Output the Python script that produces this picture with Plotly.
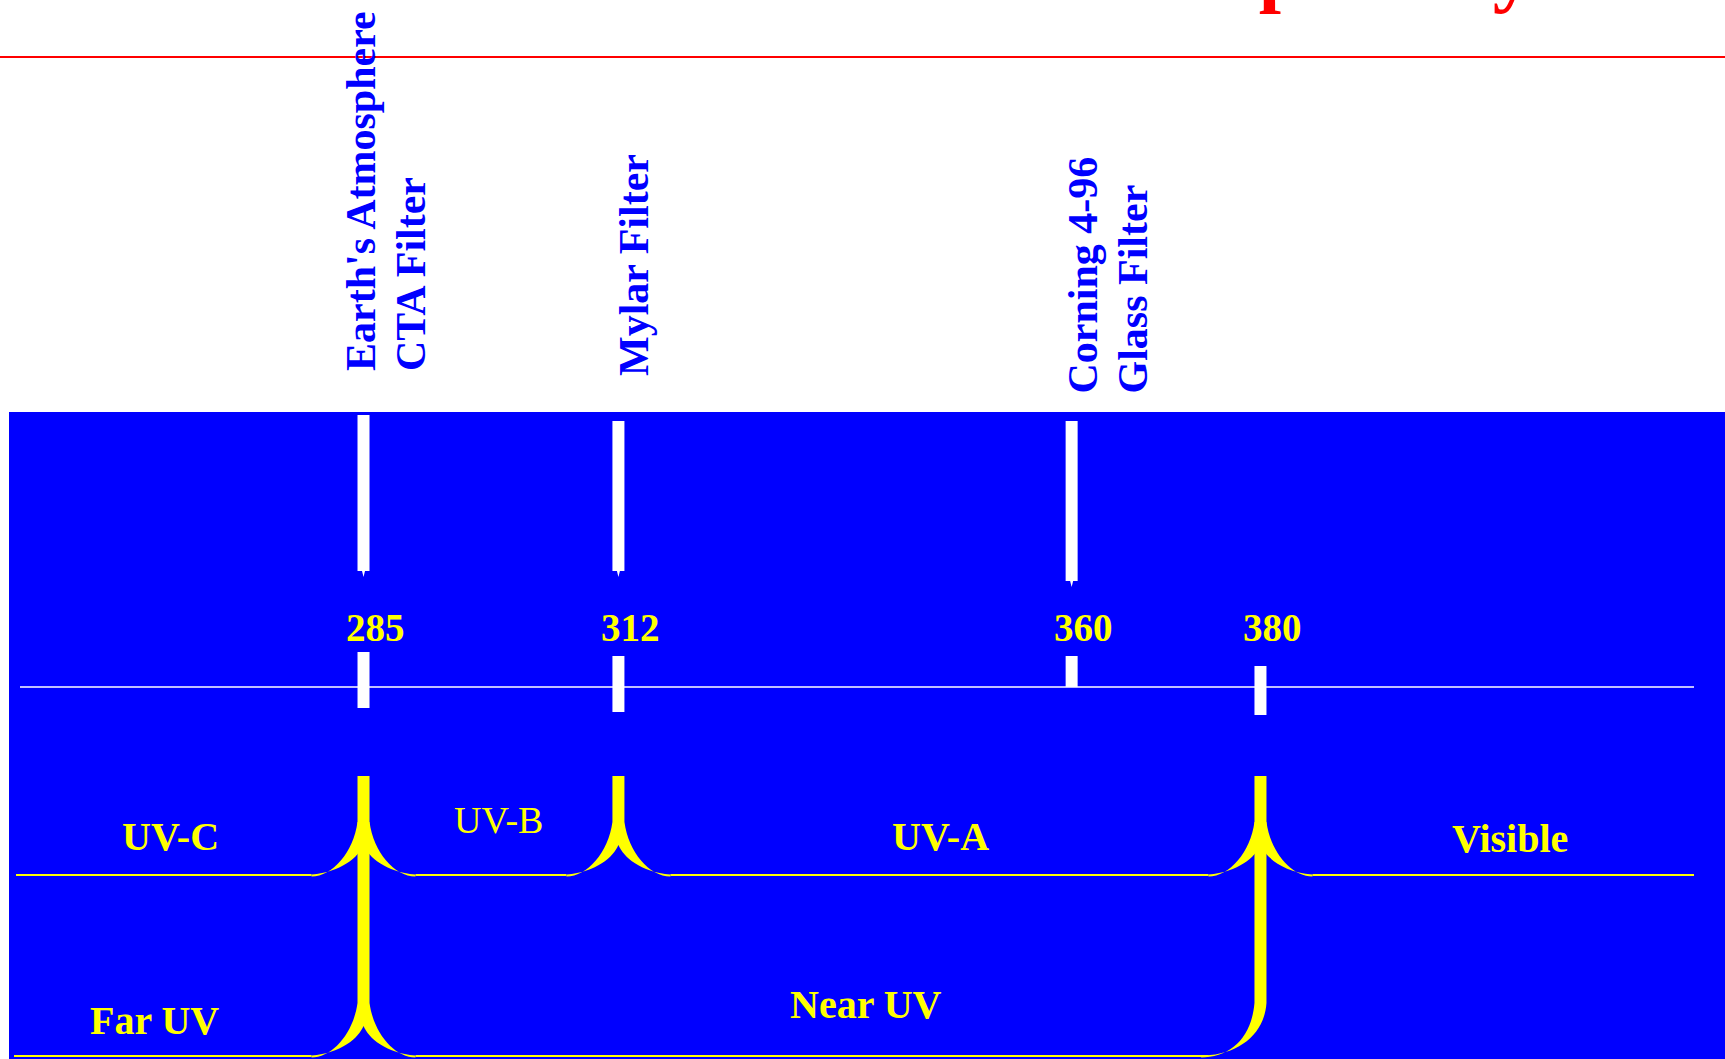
import plotly.graph_objects as go

# --- data -------------------------------------------------------------
title_text = "UV Filter Transparency"

filter_nm = [285, 312, 360]
filter_labels = [["Earth's Atmosphere", "CTA Filter"],
                 ["Mylar Filter"],
                 ["Corning 4-96", "Glass Filter"]]

tick_nm = [285, 312, 360, 380]
tick_labels = ["285", "312", "360", "380"]

uv_bands = ["UV-C", "UV-B", "UV-A", "Visible"]
uv_edges = [285, 312, 380]
broad_bands = ["Far UV", "Near UV"]
broad_edges = [285, 380]

# --- drawing geometry (pixels of the 1725x1059 page) ------------------
W, H = 1725, 1059
X0, X1 = 246.5, 429.2            # nm shown across the page
PX = W / (X1 - X0)              # pixels per nm

def at(p):
    return X0 + p / PX

def dx(p):
    return p / PX

BLUE, YEL, SERIF = "#0000FF", "#FFFF00", "Liberation Serif"

arrow_top = {285: 415, 312: 421, 360: 421}
arrow_bot = {285: 571, 312: 571, 360: 581}
mark_span = {285: (652, 708), 312: (656, 712), 360: (656, 687), 380: (666, 715)}
label_col = {285: 361, 312: 634, 360: 1082}
label_start = {285: 372, 312: 377, 360: 395}
band_pos = {"UV-C": (170, 836), "UV-B": (498, 820), "UV-A": (940, 836),
            "Visible": (1510, 838), "Far UV": (154, 1020), "Near UV": (866, 1004)}
UP_TOP, LO_TOP, DROP = 822, 1003, 53


def pt(x, y):
    return f"{x:.4f},{y:.2f}"


def junction(xc, yt, right=True):
    yl, yc = yt + DROP, yt + 23
    if right:
        p = [f"M {pt(xc - dx(6), yt)}",
             f"C {pt(xc - dx(10), yt + 30)} {pt(xc - dx(31), yl + 1.5)} {pt(xc - dx(52), yl + 1.5)}",
             f"L {pt(xc - dx(52), yl - 0.5)}",
             f"C {pt(xc - dx(22), yl - 3)} {pt(xc - dx(5), yc + 12)} {pt(xc, yc)}",
             f"C {pt(xc + dx(5), yc + 12)} {pt(xc + dx(22), yl - 3)} {pt(xc + dx(52), yl - 0.5)}",
             f"L {pt(xc + dx(52), yl + 1.5)}",
             f"C {pt(xc + dx(31), yl + 1.5)} {pt(xc + dx(10), yt + 30)} {pt(xc + dx(6), yt)}",
             "Z"]
    else:
        p = [f"M {pt(xc - dx(6), yt)}",
             f"C {pt(xc - dx(9), yt + 35)} {pt(xc - dx(30), yl + 1.5)} {pt(xc - dx(60), yl + 1.5)}",
             f"L {pt(xc - dx(56), yl - 0.5)}",
             f"C {pt(xc - dx(20), yl - 2)} {pt(xc + dx(4), yt + 30)} {pt(xc + dx(6), yt)}",
             "Z"]
    return " ".join(p)


fig = go.Figure()

# bracket base lines
def base_line(edges, y, left_px, right_px=None):
    xs, ys = [at(left_px)], [y]
    for e in edges:
        xs += [e - dx(52), None, e + dx(52)]
        ys += [y, None, y]
    if right_px is None:
        xs, ys = xs[:-2], ys[:-2]
    else:
        xs.append(at(right_px))
        ys.append(y)
    return xs, ys

ux, uy = base_line(uv_edges, UP_TOP + DROP, 16, 1694)
lx, ly = base_line(broad_edges, LO_TOP + DROP, 14)
for xs, ys in [(ux, uy), (lx, ly)]:
    fig.add_trace(go.Scatter(x=xs, y=ys, mode="lines", line=dict(color=YEL, width=2),
                             hoverinfo="skip", showlegend=False))

shapes = [
    dict(type="rect", xref="paper", x0=9 / W, x1=1, y0=412, y1=H,
         fillcolor=BLUE, line_width=0, layer="below"),
    dict(type="line", xref="paper", x0=0, x1=1, y0=57, y1=57,
         line=dict(color="#FF0000", width=2)),
    dict(type="line", x0=at(20), x1=at(1694), y0=687, y1=687,
         line=dict(color="white", width=1.5)),
]

# filter arrows
for nm in filter_nm:
    t, b = arrow_top[nm], arrow_bot[nm]
    path = (f"M {pt(nm - dx(6), t)} L {pt(nm + dx(6), t)} L {pt(nm + dx(6), b)} "
            f"L {pt(nm + dx(1.5), b)} L {pt(nm, b + 6)} L {pt(nm - dx(1.5), b)} "
            f"L {pt(nm - dx(6), b)} Z")
    shapes.append(dict(type="path", path=path, fillcolor="white", line_width=0))

# tick markers on the scale line
for nm in tick_nm:
    t, b = mark_span[nm]
    shapes.append(dict(type="rect", x0=nm - dx(6), x1=nm + dx(6), y0=t, y1=b,
                       fillcolor="white", line_width=0))

# yellow bars + brace tips
for nm in uv_edges:
    bottom = LO_TOP if nm in broad_edges else UP_TOP
    shapes.append(dict(type="rect", x0=nm - dx(6), x1=nm + dx(6), y0=776, y1=bottom,
                       fillcolor=YEL, line_width=0))
    shapes.append(dict(type="path", path=junction(nm, UP_TOP), fillcolor=YEL, line_width=0))
for i, nm in enumerate(broad_edges):
    shapes.append(dict(type="path", path=junction(nm, LO_TOP, right=i < len(broad_edges) - 1),
                       fillcolor=YEL, line_width=0))

ann = []
ann.append(dict(text=title_text, x=at(1535), y=16, xanchor="right", yanchor="bottom",
                showarrow=False, font=dict(family=SERIF, size=80, color="#FF0000", weight="bold")))

for nm, lines in zip(filter_nm, filter_labels):
    for j, line in enumerate(lines):
        ann.append(dict(text=line, x=at(label_col[nm] + 50 * j), y=label_start[nm] + 1,
                        xanchor="center", yanchor="bottom", textangle=-90, showarrow=False,
                        font=dict(family=SERIF, size=42, color=BLUE, weight="bold")))

for nm, lab in zip(tick_nm, tick_labels):
    ann.append(dict(text=lab, x=nm, y=627, xshift=12, xanchor="center", yanchor="middle",
                    showarrow=False, font=dict(family=SERIF, size=39, color=YEL, weight="bold")))

for lab in uv_bands + broad_bands:
    px_x, px_y = band_pos[lab]
    bold = lab != "UV-B"
    ann.append(dict(text=lab, x=at(px_x), y=px_y, xanchor="center", yanchor="middle",
                    showarrow=False,
                    font=dict(family=SERIF, size=40 if bold else 38, color=YEL,
                              weight="bold" if bold else "normal")))

fig.update_layout(
    width=W, height=H,
    margin=dict(l=0, r=0, t=0, b=0),
    paper_bgcolor="white", plot_bgcolor="white",
    xaxis=dict(range=[X0, X1], visible=False, fixedrange=True),
    yaxis=dict(range=[H, 0], visible=False, fixedrange=True),
    shapes=shapes, annotations=ann,
    showlegend=False,
)

fig.write_html("out.html", config={"displayModeBar": False},
               post_script="document.body.style.margin='0';document.body.style.overflow='hidden';")
